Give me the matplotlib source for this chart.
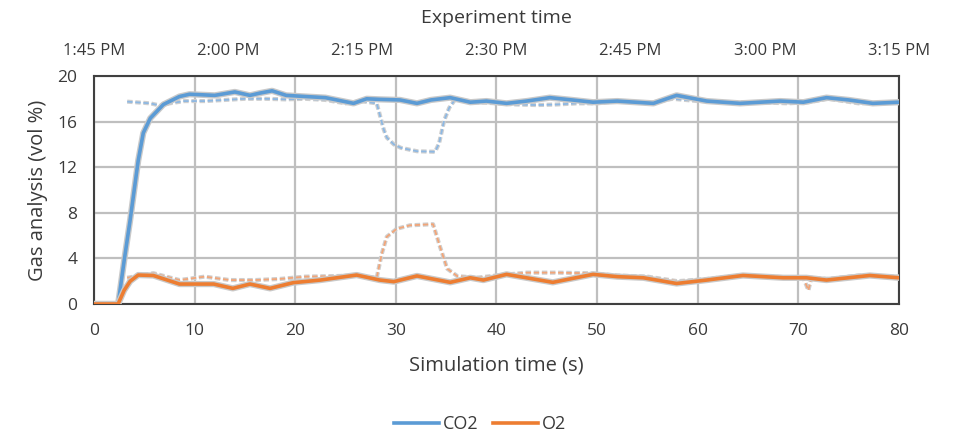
import matplotlib
matplotlib.use("Agg")
import matplotlib.pyplot as plt
import matplotlib.patheffects as pe

# Simulated (solid) series
co2_t = [0, 2.4, 3.0, 3.6, 4.4, 4.9, 5.6, 6.9, 8.5, 9.5, 12, 14, 15.5, 16.5, 17.7, 19.1, 21, 23, 25.8,
         27.1, 28.4, 30.4, 32.1, 33.5, 35.4, 37.4, 39, 41, 43, 45.3, 47.5, 49.6, 52, 55.6, 57.9, 60.9,
         64.2, 68.2, 70.5, 72.8, 75, 77.4, 80]
co2 = [0, 0, 3.8, 7.4, 12.6, 15.0, 16.3, 17.5, 18.2, 18.4, 18.3, 18.6, 18.3, 18.5, 18.7, 18.3, 18.2, 18.1,
       17.6, 18.0, 17.95, 17.9, 17.6, 17.9, 18.1, 17.7, 17.8, 17.6, 17.8, 18.1, 17.9, 17.7, 17.8, 17.6,
       18.3, 17.8, 17.6, 17.8, 17.7, 18.1, 17.9, 17.6, 17.7]

o2_t = [0, 2.4, 3.0, 3.6, 4.4, 5.9, 8.5, 11.9, 13.8, 15.5, 17.5, 19.8, 22.5, 26.1, 28.4, 29.8, 32.1,
        35.4, 37.4, 38.7, 41, 45.6, 49.6, 52, 54.6, 57.9, 60.9, 64.5, 68.5, 70.8, 72.8, 77.1, 80]
o2 = [0, 0, 1.2, 2.0, 2.54, 2.5, 1.75, 1.75, 1.37, 1.75, 1.37, 1.87, 2.1, 2.54, 2.1, 1.96, 2.46,
      1.9, 2.3, 2.1, 2.6, 1.9, 2.6, 2.4, 2.3, 1.8, 2.1, 2.5, 2.3, 2.3, 2.1, 2.5, 2.3]

# Experimental (dashed) series
co2e_t = [3.3, 5.6, 6.6, 7.5, 9, 11, 13, 15, 17, 19, 21, 23, 25, 26.5, 28.1, 28.8, 29.1, 29.8, 30.5,
          32.1, 33.9, 34.3, 34.8, 35.3, 35.9, 38, 40, 42, 44, 46, 48, 50, 52, 55, 57.5, 60, 63, 66,
          69, 71, 73, 76, 80]
co2e = [17.75, 17.6, 17.4, 17.6, 17.8, 17.8, 17.9, 18.0, 18.0, 17.95, 18.0, 17.9, 17.6, 17.8, 17.6,
        15.3, 14.6, 14.0, 13.7, 13.4, 13.35, 14.1, 16.1, 17.2, 17.95, 17.7, 17.6, 17.5, 17.45, 17.5,
        17.6, 17.6, 17.8, 17.6, 18.0, 17.8, 17.7, 17.7, 17.6, 17.7, 18.0, 17.6, 17.7]

o2e_t = [3.3, 4.0, 5.9, 8.5, 11, 13.5, 16, 18.5, 21, 24, 26, 28.1, 28.6, 29.1, 30.1, 31.4, 33.7, 34.4,
         35.1, 36.1, 38, 40, 43, 46, 49, 52, 55, 58, 61, 64, 67, 70.5, 71, 71.3, 73, 76, 80]
o2e = [2.3, 2.4, 2.7, 2.1, 2.4, 2.1, 2.1, 2.2, 2.4, 2.45, 2.5, 2.3, 4.4, 5.9, 6.6, 6.9, 7.0, 5.0,
       3.1, 2.45, 2.3, 2.5, 2.75, 2.75, 2.7, 2.5, 2.4, 2.0, 2.2, 2.5, 2.4, 2.3, 1.2, 2.3, 2.2, 2.5, 2.4]

x_ticks = [0, 10, 20, 30, 40, 50, 60, 70, 80]
y_ticks = [0, 4, 8, 12, 16, 20]
top_labels = ["1:45 PM", "2:00 PM", "2:15 PM", "2:30 PM", "2:45 PM", "3:00 PM", "3:15 PM"]

BLUE = "#5B9BD5"
ORANGE = "#ED7D31"
TXT = "#3a3a3a"
FONT = ["Open Sans", "DejaVu Sans"]

fig = plt.figure(figsize=(9.54, 4.32), dpi=100)
ax = fig.add_axes([0.0985, 0.2963, 0.8438, 0.5278])

glow = [pe.Stroke(linewidth=4.5, foreground="#c9c9c9"), pe.Normal()]
glow_d = [pe.Stroke(linewidth=3.0, foreground="#cfcfcf"), pe.Normal()]

ax.plot(co2e_t, co2e, color="#8db8e3", lw=1.3, ls=(0, (3, 1.5)), path_effects=glow_d, zorder=3)
ax.plot(o2e_t, o2e, color="#f2a578", lw=1.3, ls=(0, (3, 1.5)), path_effects=glow_d, zorder=3)
l1, = ax.plot(co2_t, co2, color=BLUE, lw=2.6, path_effects=glow, zorder=4, label="CO2")
l2, = ax.plot(o2_t, o2, color=ORANGE, lw=2.6, path_effects=glow, zorder=4, label="O2")

ax.set_xlim(0, 80)
ax.set_ylim(0, 20)
ax.set_xticks(x_ticks)
ax.set_yticks(y_ticks)
ax.grid(True, color="#bfbfbf", lw=1.6)
ax.set_axisbelow(True)
for s in ax.spines.values():
    s.set_color("#404040")
    s.set_linewidth(1.5)
ax.tick_params(axis="x", length=0, labelsize=12.5, pad=14, labelcolor=TXT)
ax.tick_params(axis="y", length=0, labelsize=12.5, pad=12, labelcolor=TXT)
for lab in ax.get_xticklabels() + ax.get_yticklabels():
    lab.set_family(FONT)

ax.set_xlabel("Simulation time (s)", fontsize=14.5, family=FONT, color=TXT)
ax.xaxis.label.set_va("center")
ax.xaxis.set_label_coords(0.5, (304 - 365) / 228)
ax.set_ylabel("Gas analysis (vol %)", fontsize=14.5, family=FONT, color=TXT)
ax.yaxis.label.set_va("center")
ax.yaxis.set_label_coords((38 - 94) / 805, 0.5)

top = ax.twiny()
top.set_xlim(0, 80)
top.set_xticks([i * 80 / 6 for i in range(7)])
top.set_xticklabels(top_labels)
top.tick_params(length=0, labelsize=12, pad=12, labelcolor=TXT)
for lab in top.get_xticklabels():
    lab.set_family(FONT)
for s in top.spines.values():
    s.set_visible(False)
top.set_xlabel("Experiment time", fontsize=14, family=FONT, color=TXT)
top.xaxis.label.set_va("center")
top.xaxis.set_label_coords(0.5, (304 - 18) / 228)

leg = fig.legend(handles=[l1, l2], loc="center", bbox_to_anchor=(0.503, 0.0185), ncol=2,
                 frameon=False, prop={"family": FONT, "size": 13}, handlelength=2.5,
                 columnspacing=0.8, handletextpad=0.2, labelcolor=TXT)
for h in leg.legend_handles:
    h.set_path_effects([])
    h.set_linewidth(2.6)

fig.savefig("out.png", dpi=100)
